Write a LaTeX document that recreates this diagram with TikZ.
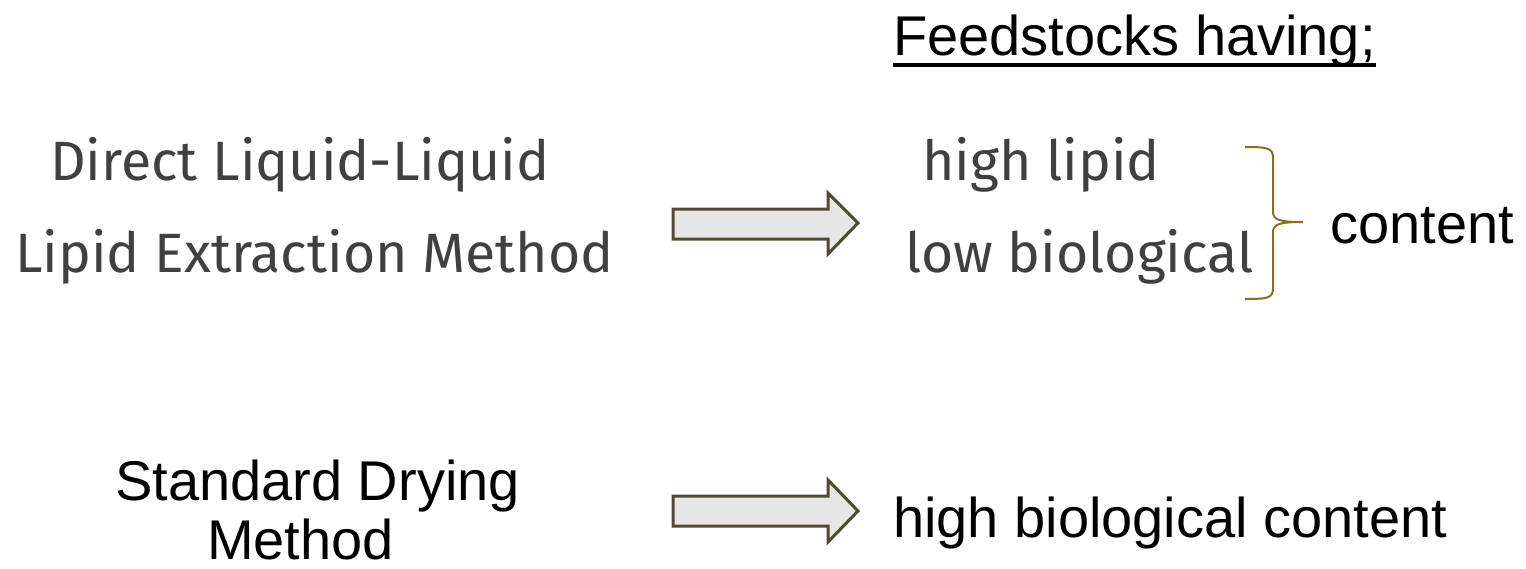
\documentclass[tikz,border=0pt]{standalone}
\usepackage{fontspec}
\setmainfont{Liberation Sans}
\newfontfamily\grayfont{Fira Sans}
\definecolor{txtgray}{HTML}{404040}
\definecolor{arrowfill}{HTML}{E6E6E6}
\definecolor{arrowline}{HTML}{4E4A33}
\definecolor{bracecol}{HTML}{86701E}
\begin{document}
\begin{tikzpicture}[x=1pt,y=-1pt,
  graytxt/.style={inner sep=0pt,anchor=base west,text=txtgray,font=\grayfont\fontsize{55.4}{60}\selectfont},
  blacktxt/.style={inner sep=0pt,anchor=base west,text=black,font=\fontsize{56}{60}\selectfont},
  blockarrow/.style={draw=arrowline,fill=arrowfill,line width=3pt,line join=miter}]
\useasboundingbox (0,0) rectangle (1526,568);
% left texts
\node[graytxt] (t1) at (50,180) {Direct Liquid-Liquid};
\node[graytxt] (t2) at (15,272) {Lipid Extraction Method};
\node[blacktxt] (sd) at (115,500) {Standard Drying};
\node[blacktxt] (m) at (207,559) {Method};
% right texts
\node[blacktxt] (feed) at (893,55) {Feedstocks having;};
\draw[line width=3.5pt] (893,65) -- (1376,65);
\node[graytxt] (h1) at (922,180) {high lipid};
\node[graytxt] (h2) at (905,272) {low biological};
\node[blacktxt] (cont) at (1330,243) {content};
\node[blacktxt] (hb) at (893,537) {high biological content};
% brace
\draw[bracecol,line width=2pt] (1245,147) .. controls (1268,147) and (1273,148) .. (1273,158)
  -- (1273,212) .. controls (1273,220) and (1280,222) .. (1303,222)
  .. controls (1280,222) and (1273,224) .. (1273,232)
  -- (1273,288) .. controls (1273,298) and (1268,299) .. (1245,299);
% block arrows
\draw[blockarrow] (673,209) -- (828,209) -- (828,193) -- (858,223) -- (828,254) -- (828,239) -- (673,239) -- cycle;
\draw[blockarrow] (673,496) -- (828,496) -- (828,480) -- (858,511) -- (828,542) -- (828,526) -- (673,526) -- cycle;
\end{tikzpicture}
\end{document}
